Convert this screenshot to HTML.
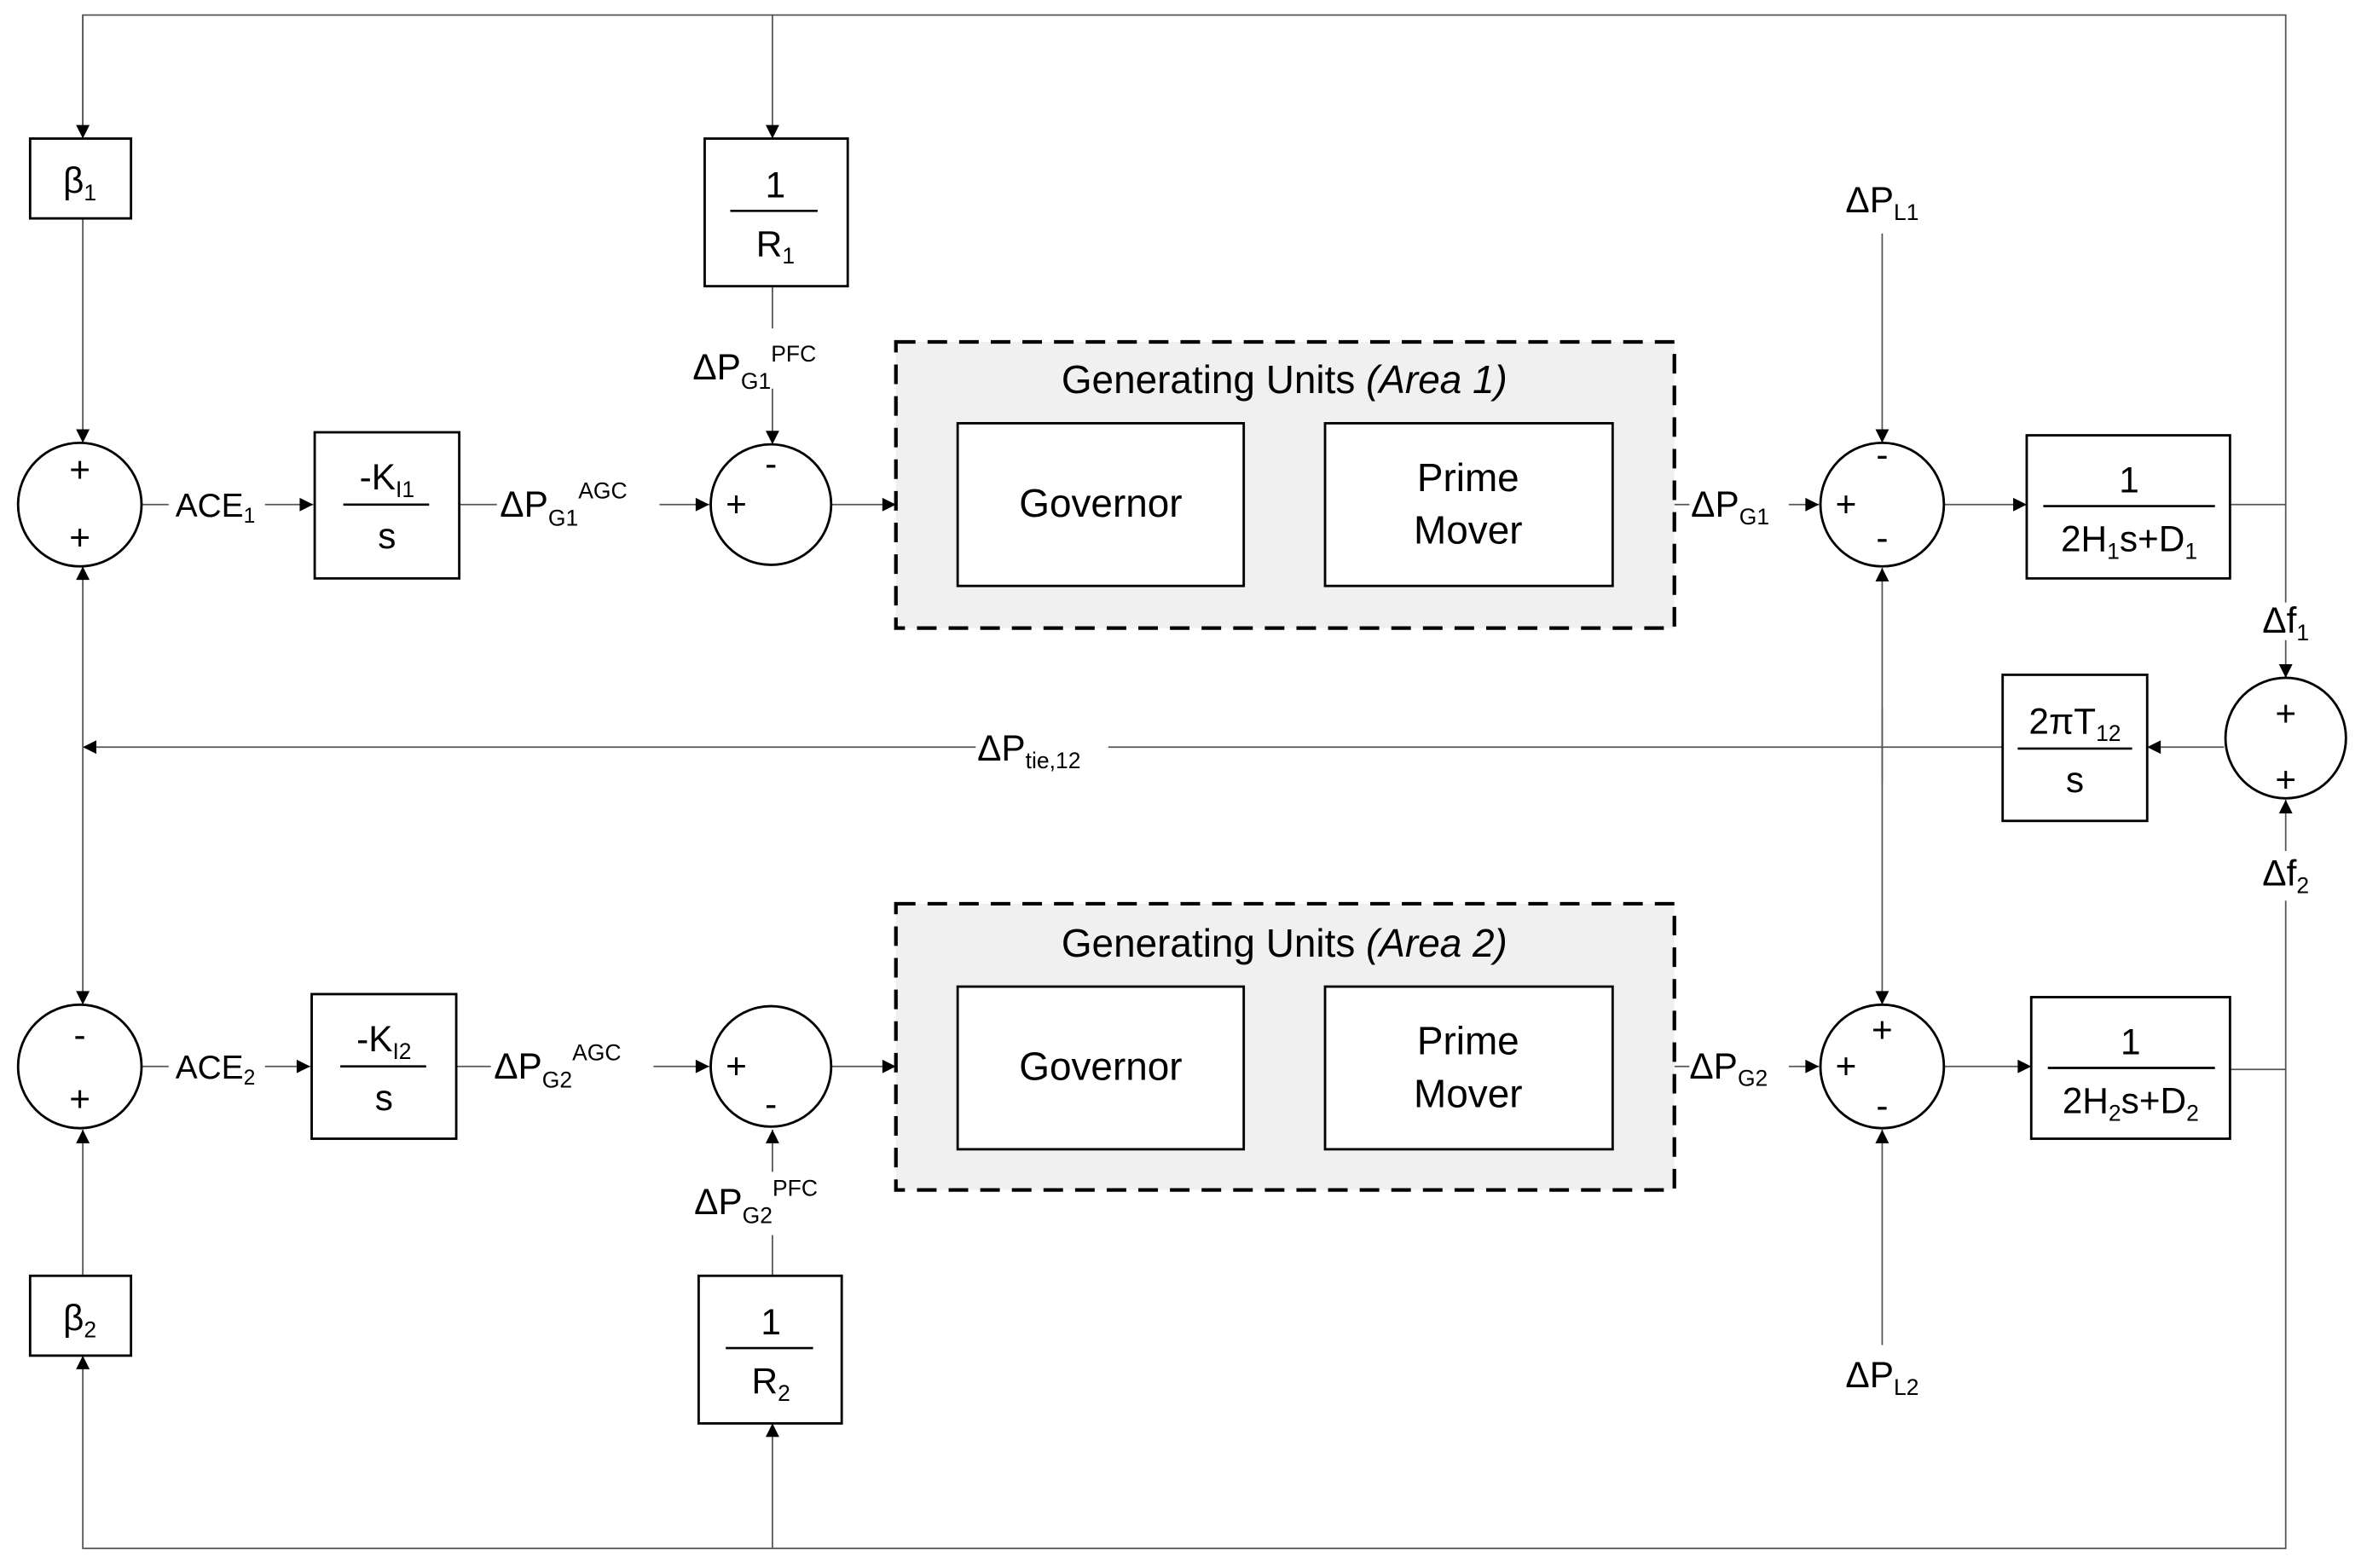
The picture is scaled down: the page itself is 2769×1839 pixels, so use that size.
<!DOCTYPE html>
<html><head><meta charset="utf-8"><style>
html,body{margin:0;padding:0;background:#fff;}
svg{display:block;}
text{font-family:"Liberation Sans",Arial,sans-serif;fill:#000;}
</style></head><body>
<svg width="2769" height="1839" viewBox="0 0 1568 1041" preserveAspectRatio="none" xmlns="http://www.w3.org/2000/svg">
<defs>
<marker id="a" viewBox="0 0 10 10" refX="10" refY="5" markerWidth="12" markerHeight="9" markerUnits="userSpaceOnUse" orient="auto"><path d="M0,0L10,5L0,10z" fill="#000"/></marker>
</defs>
<g stroke="#555" stroke-width="1" fill="none">
<polyline points="55,92 55,10 1518,10 1518,400"/>
<line x1="513" y1="10" x2="513" y2="92" marker-end="url(#a)"/>
<line x1="55" y1="10" x2="55" y2="92" marker-end="url(#a)"/>
<line x1="55" y1="145" x2="55" y2="294" marker-end="url(#a)"/>
<line x1="94" y1="335" x2="208" y2="335" marker-end="url(#a)"/>
<line x1="305" y1="335" x2="471" y2="335" marker-end="url(#a)"/>
<line x1="513" y1="190" x2="513" y2="218"/>
<line x1="513" y1="258" x2="513" y2="295" marker-end="url(#a)"/>
<line x1="552" y1="335" x2="595" y2="335" marker-end="url(#a)"/>
<line x1="1112" y1="335" x2="1122" y2="335"/>
<line x1="1188" y1="335" x2="1208" y2="335" marker-end="url(#a)"/>
<line x1="1250" y1="155" x2="1250" y2="294" marker-end="url(#a)"/>
<line x1="1291" y1="335" x2="1346" y2="335" marker-end="url(#a)"/>
<line x1="1481" y1="335" x2="1518" y2="335"/>
<line x1="1518" y1="425" x2="1518" y2="450" marker-end="url(#a)"/>
<line x1="1518" y1="565" x2="1518" y2="531" marker-end="url(#a)"/>
<polyline points="1518,598 1518,1028 55,1028 55,900" marker-end="url(#a)"/>
<line x1="1481" y1="710" x2="1518" y2="710"/>
<line x1="513" y1="1028" x2="513" y2="945" marker-end="url(#a)"/>
<line x1="1250" y1="520" x2="1250" y2="377" marker-end="url(#a)"/>
<line x1="1250" y1="470" x2="1250" y2="667" marker-end="url(#a)"/>
<line x1="1477" y1="496" x2="1426" y2="496" marker-end="url(#a)"/>
<line x1="1330" y1="496" x2="55" y2="496" marker-end="url(#a)"/>
<line x1="55" y1="496" x2="55" y2="376" marker-end="url(#a)"/>
<line x1="55" y1="496" x2="55" y2="667" marker-end="url(#a)"/>
<line x1="55" y1="847" x2="55" y2="750" marker-end="url(#a)"/>
<line x1="94" y1="708" x2="206" y2="708" marker-end="url(#a)"/>
<line x1="303" y1="708" x2="471" y2="708" marker-end="url(#a)"/>
<line x1="552" y1="708" x2="595" y2="708" marker-end="url(#a)"/>
<line x1="513" y1="847" x2="513" y2="820"/>
<line x1="513" y1="778" x2="513" y2="750" marker-end="url(#a)"/>
<line x1="1112" y1="708" x2="1122" y2="708"/>
<line x1="1188" y1="708" x2="1208" y2="708" marker-end="url(#a)"/>
<line x1="1250" y1="893" x2="1250" y2="750" marker-end="url(#a)"/>
<line x1="1291" y1="708" x2="1349" y2="708" marker-end="url(#a)"/>
</g>
<g fill="#f0f0f0" stroke="#000" stroke-width="2.4" stroke-dasharray="13,8">
<rect x="595" y="227" width="517" height="190"/>
<rect x="595" y="600" width="517" height="190"/>
</g>
<g fill="#fff" stroke="#000" stroke-width="1.6">
<rect x="20" y="92" width="67" height="53"/>
<rect x="468" y="92" width="95" height="98"/>
<rect x="209" y="287" width="96" height="97"/>
<rect x="636" y="281" width="190" height="108"/>
<rect x="880" y="281" width="191" height="108"/>
<rect x="1346" y="289" width="135" height="95"/>
<rect x="1330" y="448" width="96" height="97"/>
<rect x="207" y="660" width="96" height="96"/>
<rect x="636" y="655" width="190" height="108"/>
<rect x="880" y="655" width="191" height="108"/>
<rect x="1349" y="662" width="132" height="94"/>
<rect x="20" y="847" width="67" height="53"/>
<rect x="464" y="847" width="95" height="98"/>
<circle cx="53" cy="335" r="41"/>
<circle cx="512" cy="335" r="40"/>
<circle cx="1250" cy="335" r="41"/>
<circle cx="1518" cy="490" r="40"/>
<circle cx="53" cy="708" r="41"/>
<circle cx="512" cy="708" r="40"/>
<circle cx="1250" cy="708" r="41"/>
</g>
<g stroke="#000" stroke-width="1.5">
<line x1="485" y1="140" x2="543" y2="140"/>
<line x1="228" y1="335" x2="285" y2="335"/>
<line x1="1357" y1="336" x2="1471" y2="336"/>
<line x1="1340" y1="497" x2="1416" y2="497"/>
<line x1="226" y1="708" x2="283" y2="708"/>
<line x1="1360" y1="709" x2="1471" y2="709"/>
<line x1="482" y1="895" x2="540" y2="895"/>
</g>
<g fill="#fff">
<rect x="112" y="320" width="64" height="30"/>
<rect x="112" y="693" width="64" height="30"/>
<rect x="330" y="318" width="108" height="34"/>
<rect x="326" y="691" width="108" height="34"/>
</g>
<g font-size="24" text-anchor="middle">
<text x="53" y="128">β<tspan font-size="15" dy="5">1</tspan></text>
<text x="53" y="883">β<tspan font-size="15" dy="5">2</tspan></text>
<text x="515" y="131">1</text>
<text x="515" y="170">R<tspan font-size="15" dy="5">1</tspan></text>
<text x="512" y="886">1</text>
<text x="512" y="925">R<tspan font-size="15" dy="5">2</tspan></text>
<text x="257" y="325">-K<tspan font-size="15" dy="5">I1</tspan></text>
<text x="257" y="364">s</text>
<text x="255" y="698">-K<tspan font-size="15" dy="5">I2</tspan></text>
<text x="255" y="737">s</text>
<text x="1414" y="327">1</text>
<text x="1414" y="366">2H<tspan font-size="15" dy="5">1</tspan><tspan dy="-5">s+D</tspan><tspan font-size="15" dy="5">1</tspan></text>
<text x="1415" y="700">1</text>
<text x="1415" y="739">2H<tspan font-size="15" dy="5">2</tspan><tspan dy="-5">s+D</tspan><tspan font-size="15" dy="5">2</tspan></text>
<text x="1378" y="487">2πT<tspan font-size="15" dy="5">12</tspan></text>
<text x="1378" y="526">s</text>
<text x="731" y="343" font-size="26">Governor</text>
<text x="975" y="326" font-size="26">Prime</text>
<text x="975" y="361" font-size="26">Mover</text>
<text x="731" y="717" font-size="26">Governor</text>
<text x="975" y="700" font-size="26">Prime</text>
<text x="975" y="735" font-size="26">Mover</text>
<text x="853" y="261" font-size="26">Generating Units <tspan font-style="italic">(Area 1)</tspan></text>
<text x="853" y="635" font-size="26">Generating Units <tspan font-style="italic">(Area 2)</tspan></text>
<text x="53" y="320">+</text><text x="53" y="365">+</text>
<text x="53" y="695">-</text><text x="53" y="738">+</text>
<text x="489" y="343">+</text><text x="512" y="316">-</text>
<text x="489" y="716">+</text><text x="512" y="741">-</text>
<text x="1226" y="343">+</text><text x="1250" y="310">-</text><text x="1250" y="365">-</text>
<text x="1250" y="692">+</text><text x="1226" y="716">+</text><text x="1250" y="742">-</text>
<text x="1518" y="482">+</text><text x="1518" y="526">+</text>
<text x="143" y="343" font-size="22">ACE<tspan font-size="14" dy="4">1</tspan></text>
<text x="143" y="716" font-size="22">ACE<tspan font-size="14" dy="4">2</tspan></text>
<text x="1250" y="141">ΔP<tspan font-size="15" dy="5">L1</tspan></text>
<text x="1250" y="921">ΔP<tspan font-size="15" dy="5">L2</tspan></text>
<text x="1518" y="420">Δf<tspan font-size="15" dy="5">1</tspan></text>
<text x="1518" y="588">Δf<tspan font-size="15" dy="5">2</tspan></text>
</g>
<g font-size="24">
<text x="332" y="343">ΔP<tspan font-size="15" dy="6">G1</tspan><tspan font-size="15" dy="-18">AGC</tspan></text>
<text x="328" y="716">ΔP<tspan font-size="15" dy="6">G2</tspan><tspan font-size="15" dy="-18">AGC</tspan></text>
<text x="460" y="252">ΔP<tspan font-size="15" dy="6">G1</tspan><tspan font-size="15" dy="-18">PFC</tspan></text>
<text x="461" y="806">ΔP<tspan font-size="15" dy="6">G2</tspan><tspan font-size="15" dy="-18">PFC</tspan></text>
<text x="1123" y="343">ΔP<tspan font-size="15" dy="5">G1</tspan></text>
<text x="1122" y="716">ΔP<tspan font-size="15" dy="5">G2</tspan></text>
<rect x="648" y="482" width="88" height="30" fill="#fff"/>
<text x="649" y="505">ΔP<tspan font-size="15" dy="5">tie,12</tspan></text>
</g>
</svg>
</body></html>
